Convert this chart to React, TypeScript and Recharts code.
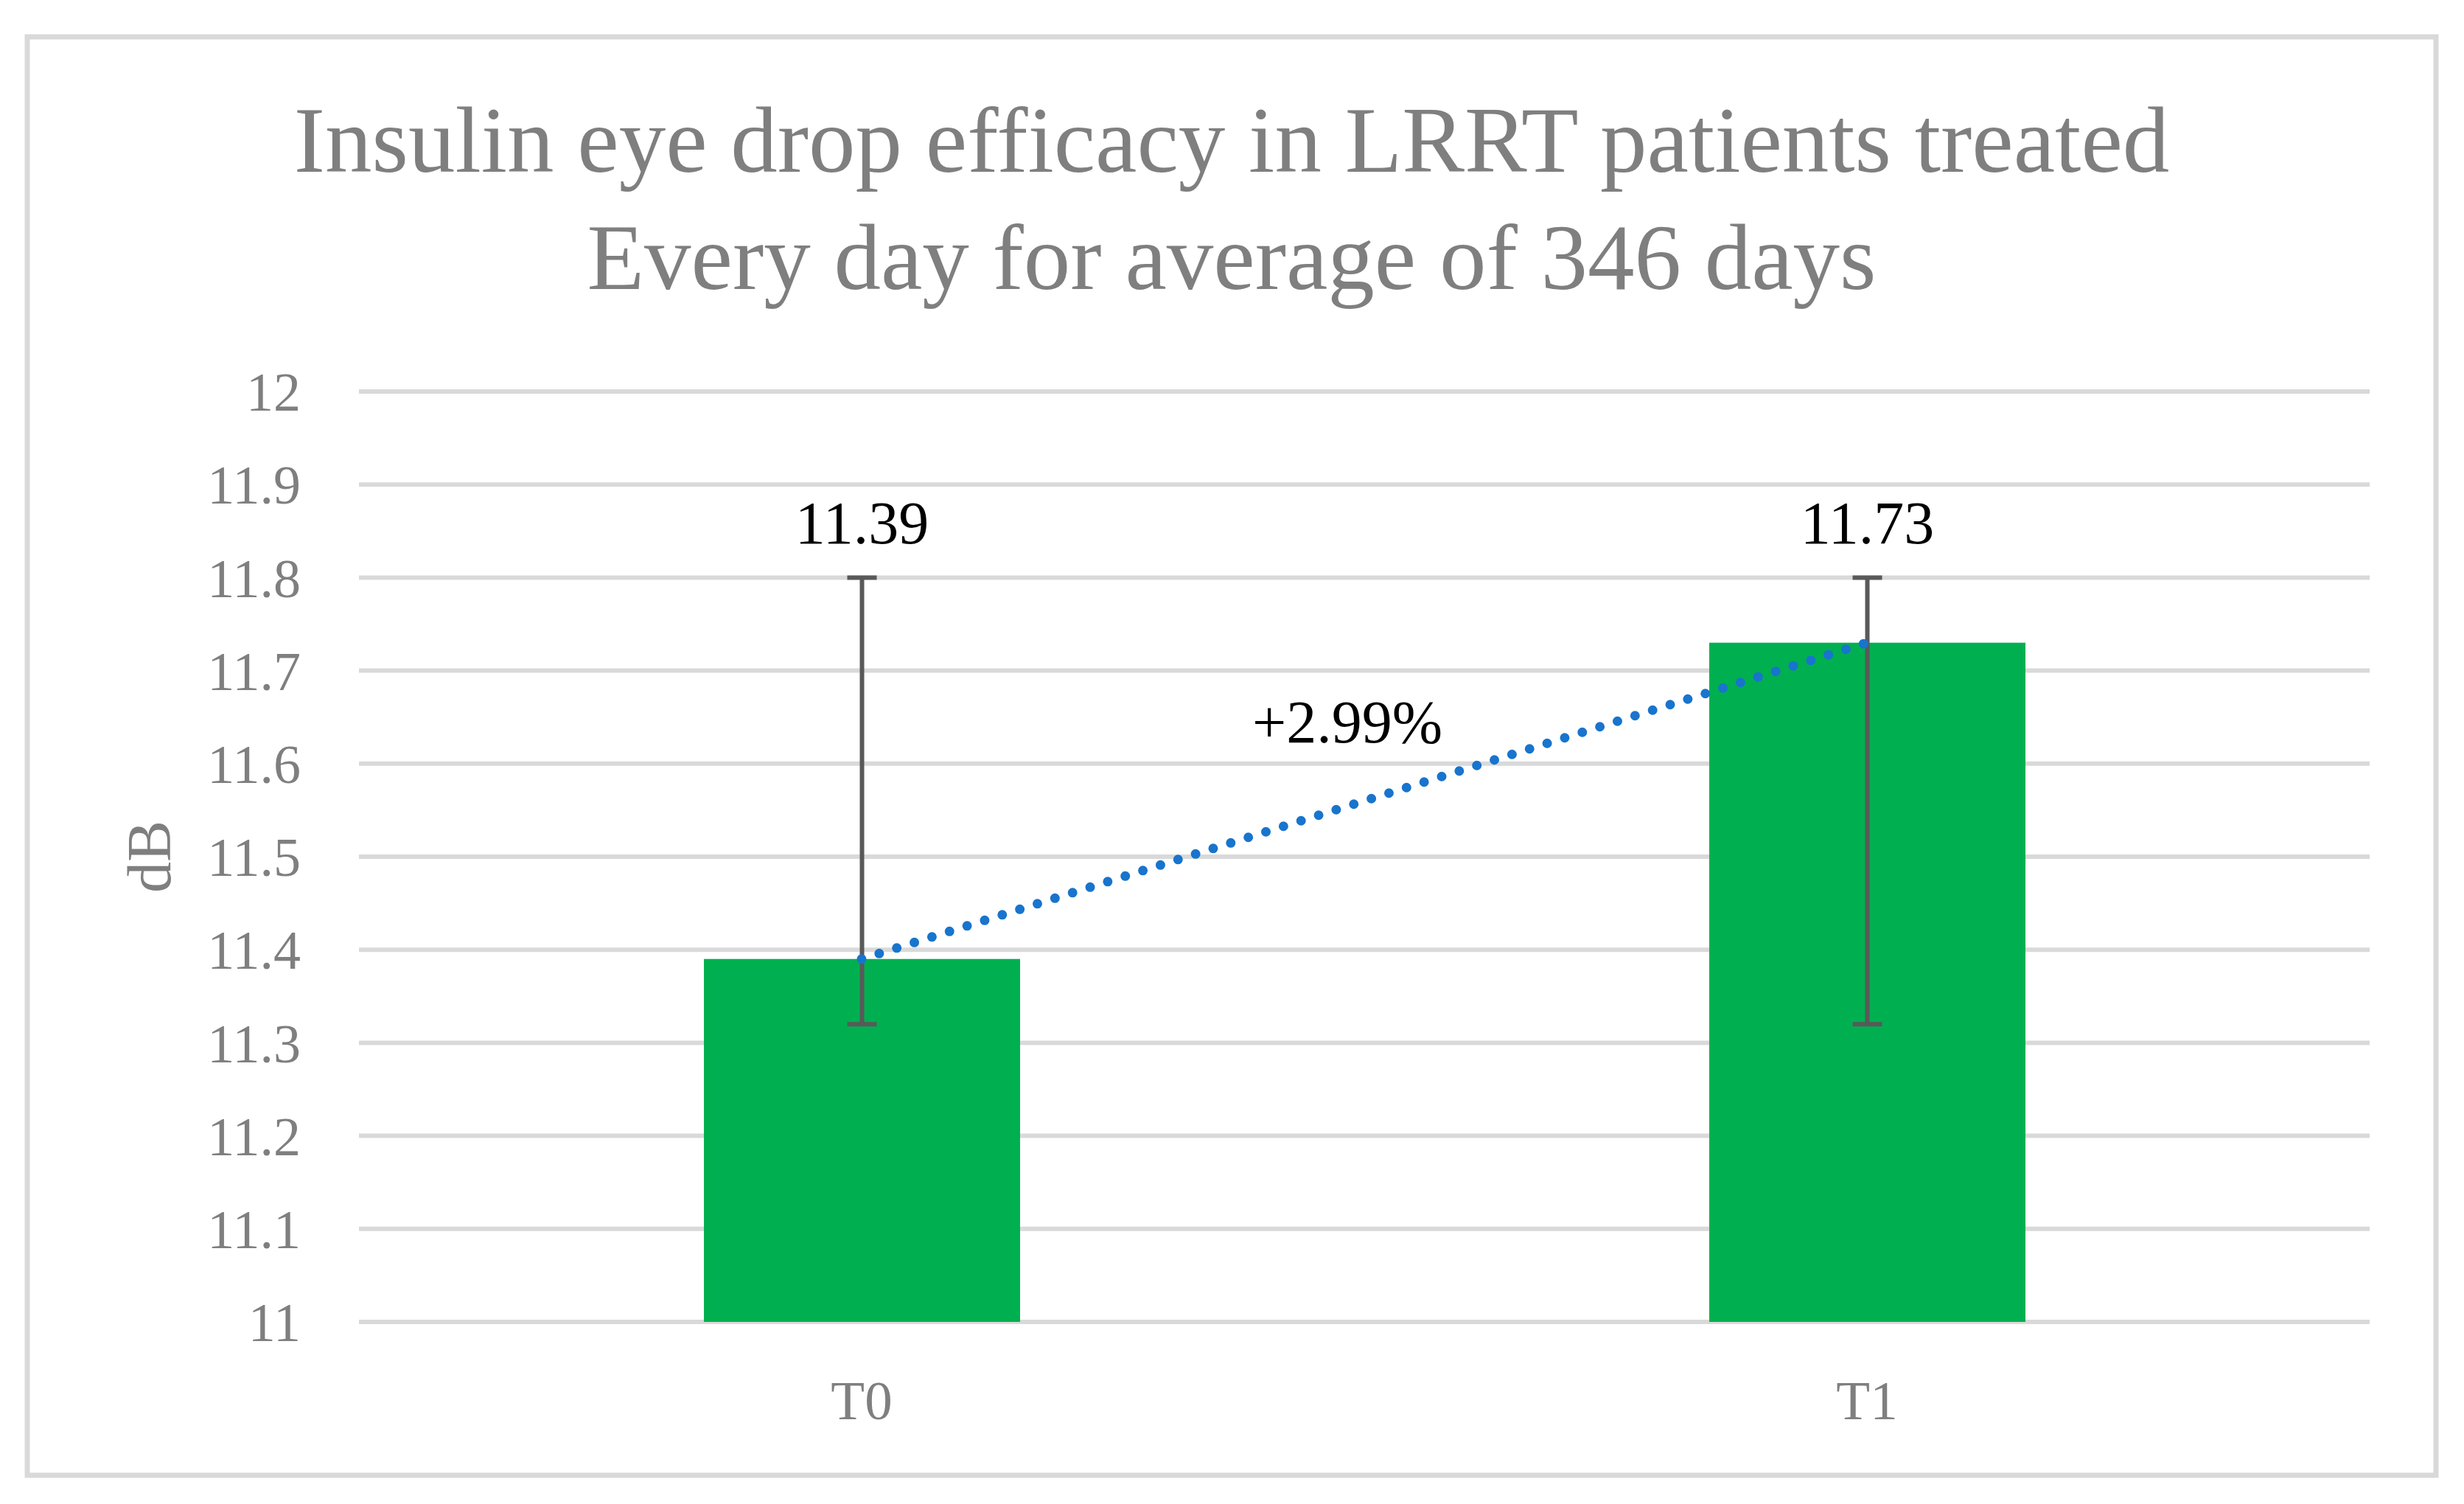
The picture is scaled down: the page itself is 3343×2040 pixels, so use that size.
import React from "react";
import {
  ComposedChart,
  Bar,
  Line,
  XAxis,
  YAxis,
  CartesianGrid,
  ErrorBar,
  LabelList,
} from "recharts";

// values
const CATEGORIES = ["T0", "T1"];
const MEAN_DB = [11.39, 11.73];
const ERR_LOW = [0.07, 0.41];
const ERR_HIGH = [0.41, 0.07];
const Y_TICKS = [11, 11.1, 11.2, 11.3, 11.4, 11.5, 11.6, 11.7, 11.8, 11.9, 12];
const TITLE_LINES = [
  "Insulin eye drop efficacy in LRRT patients treated",
  "Every day for average of 346 days",
];

const Y_MIN = Y_TICKS[0];
const Y_MAX = Y_TICKS[Y_TICKS.length - 1];

const W = 3343;
const H = 2040;
const FONT = "'Liberation Serif', 'Times New Roman', serif";
const GRAY = "#7f7f7f";
const GRID = "#d9d9d9";

const rows = CATEGORIES.map((name, i) => ({
  name,
  value: MEAN_DB[i],
  err: [ERR_LOW[i], ERR_HIGH[i]],
}));

const change = ((MEAN_DB[1] - MEAN_DB[0]) / MEAN_DB[0]) * 100;
const changeText = (change >= 0 ? "+" : "") + change.toFixed(2) + "%";

// data label sits above the upper whisker of the error bar
function ValueLabel(props: any) {
  const vb = props.viewBox || {};
  const x = props.x ?? vb.x;
  const y = props.y ?? vb.y;
  const w = props.width ?? vb.width;
  const h = props.height ?? vb.height;
  const { value, index } = props;
  if (!h || value == null) return null;
  const ppu = h / (value - Y_MIN);
  const top = y + h - (value + ERR_HIGH[index] - Y_MIN) * ppu;
  return (
    <text
      x={x + w / 2}
      y={top - 46}
      textAnchor="middle"
      fontSize={82}
      fontFamily={FONT}
      fill="#000"
    >
      {value}
    </text>
  );
}

function DbLabel(props: any) {
  const vb = props.viewBox || {};
  const cx = vb.x + 231;
  const cy = vb.y + vb.height / 2;
  return (
    <text
      x={cx}
      y={cy}
      transform={`rotate(-90, ${cx}, ${cy})`}
      textAnchor="middle"
      fontSize={84}
      fontFamily={FONT}
      fill={GRAY}
    >
      dB
    </text>
  );
}

export default function App() {
  return (
    <div style={{ position: "absolute", left: 0, top: 0, width: W, height: H, background: "#fff" }}>
      <ComposedChart
        width={W}
        height={H}
        data={rows}
        margin={{ top: 531, right: 128, bottom: 97, left: 0 }}
      >
        <CartesianGrid vertical={false} stroke={GRID} strokeWidth={6} />
        <XAxis
          dataKey="name"
          axisLine={false}
          tickLine={false}
          tickSize={0}
          tickMargin={79}
          height={150}
          tick={{ fill: GRAY, fontSize: 75, fontFamily: FONT }}
        />
        <YAxis
          domain={[Y_MIN, Y_MAX]}
          ticks={Y_TICKS}
          interval={0}
          width={487}
          axisLine={false}
          tickLine={false}
          tickSize={0}
          tickMargin={79}
          tick={{ fill: GRAY, fontSize: 74, fontFamily: FONT }}
          tickFormatter={(v: number) => String(v)}
          label={(p: any) => <DbLabel {...p} />}
        />
        <Bar dataKey="value" fill="#00B050" barSize={429} isAnimationActive={false}>
          <ErrorBar dataKey="err" direction="y" width={20} strokeWidth={6} stroke="#595959" />
          <LabelList dataKey="value" content={(p: any) => <ValueLabel {...p} />} />
        </Bar>
        <Line
          type="linear"
          dataKey="value"
          stroke="#1874cd"
          strokeWidth={13}
          strokeDasharray="0 25"
          strokeLinecap="round"
          dot={false}
          activeDot={false}
          isAnimationActive={false}
        />
      </ComposedChart>
      <svg
        width={W}
        height={H}
        style={{ position: "absolute", left: 0, top: 0, pointerEvents: "none" }}
      >
        <rect x={37} y={50} width={3268} height={1951} fill="none" stroke={GRID} strokeWidth={7} />
        {TITLE_LINES.map((t, i) => (
          <text
            key={t}
            x={1671}
            y={233 + i * 159}
            textAnchor="middle"
            fontSize={127}
            fontFamily={FONT}
            fill={GRAY}
          >
            {t}
          </text>
        ))}
        <text x={1828} y={1007} textAnchor="middle" fontSize={82} fontFamily={FONT} fill="#000">
          {changeText}
        </text>
      </svg>
    </div>
  );
}
